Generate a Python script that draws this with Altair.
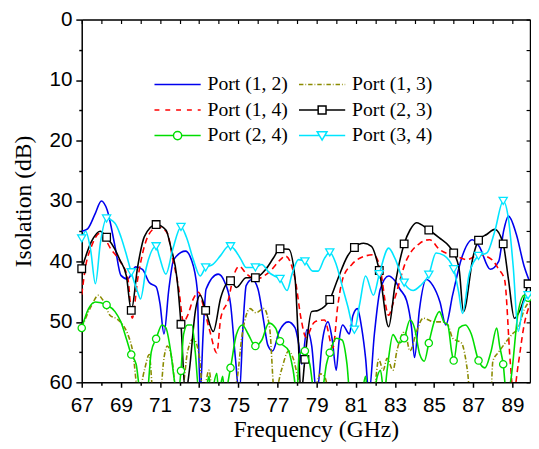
import altair as alt
import pandas as pd

# ---------------- data ----------------
names = ["Port (1, 2)", "Port (1, 3)", "Port (1, 4)", "Port (2, 3)", "Port (2, 4)", "Port (3, 4)"]
colors = ["#0000EE", "#8B8B00", "#FF0000", "#000000", "#00DD00", "#00E5FF"]

blue_f = [67.0, 67.3, 67.7, 68.0, 68.3, 68.7, 69.0, 69.35, 69.75, 70.1, 70.45, 70.8, 71.0, 71.2, 71.45,
          71.7, 72.3, 72.6, 72.9, 73.05, 73.2, 73.35, 73.97, 74.3, 74.6, 74.85, 75.05, 75.25, 75.4,
          75.7, 76.0, 76.3, 76.5, 76.75, 77.1, 77.55, 77.9, 78.1, 78.24, 78.5, 78.75, 79.0, 79.3,
          79.58, 79.8, 80.0, 80.15, 80.33, 80.67, 80.85, 81.08, 81.3, 81.5, 81.67, 81.95, 82.25,
          82.68, 83.0, 83.26, 83.6, 83.85, 84.0, 84.25, 84.6, 84.94, 85.3, 85.6, 85.95, 86.4, 86.95,
          87.3, 87.87, 88.3, 88.55, 88.8, 89.2, 89.6, 89.9]
blue_db = [35.0, 34.6, 32.0, 30.0, 31.5, 37.5, 42.3, 42.9, 40.9, 41.3, 43.5, 44.2, 47.0, 52.0, 44.6,
           39.7, 38.3, 39.7, 44.6, 62.0, 52.0, 44.6, 42.1, 43.4, 47.0, 56.0, 62.0, 50.0, 44.0,
           43.0, 44.5, 50.0, 53.8, 54.8, 51.5, 50.0, 51.0, 54.0, 57.0, 51.3, 54.0, 62.0, 53.0,
           50.0, 53.0, 58.0, 53.0, 50.5, 52.0, 49.0, 47.8, 51.0, 56.0, 62.0, 52.0, 44.6,
           42.4, 43.2, 44.6, 46.5, 51.0, 55.9, 48.0, 43.0, 44.0, 46.7, 50.5, 45.5, 39.5, 36.4,
           37.5, 41.3, 40.0, 35.0, 32.5, 35.5, 40.8, 43.5]

olive_f = [67.0, 67.5, 67.85, 68.1, 68.44, 68.8, 69.1, 69.36, 69.6, 69.9, 70.2, 70.45, 70.65, 71.0,
           71.2, 71.37, 71.6, 71.85, 72.2, 72.4, 72.7, 73.0, 73.2, 73.5, 73.7, 74.5, 74.9, 75.2,
           75.6, 75.9, 76.3, 76.6, 76.85, 77.2, 77.57, 77.8, 78.1, 78.3, 78.8, 79.2, 79.4, 79.7,
           81.9, 82.17, 82.4, 82.6, 82.9, 83.1, 83.5, 83.77, 84.1, 84.44, 85.0, 85.4, 85.7, 85.95,
           86.4, 86.7, 86.85, 87.9, 88.0, 88.3, 88.7, 89.0, 89.3, 89.6, 89.9]
olive_db = [51.0, 47.3, 45.6, 46.5, 48.9, 49.5, 50.5, 52.1, 54.8, 62.0, 58.0, 55.4, 62.0, 62.0,
            56.0, 54.0, 56.0, 62.0, 60.0, 55.0, 52.8, 55.5, 62.0, 58.0, 62.0, 62.0, 60.0, 52.0,
            47.8, 48.5, 47.8, 51.0, 62.0, 58.0, 54.8, 56.0, 60.0, 62.0, 62.0, 58.6, 59.0, 62.0,
            62.0, 56.2, 58.0, 56.0, 58.0, 54.8, 51.6, 54.8, 51.6, 49.4, 50.0, 50.0, 50.5, 52.7,
            53.5, 58.0, 62.0, 62.0, 56.5, 55.0, 53.2, 52.0, 51.0, 48.0, 46.5]

red_f = [67.0, 67.2, 67.5, 67.94, 68.5, 69.0, 69.36, 69.58, 69.86, 70.2, 70.6, 70.95, 71.37, 71.62,
         71.96, 72.2, 72.4, 72.7, 72.96, 73.3, 73.55, 73.9, 74.1, 74.5, 74.75, 75.05, 75.4, 75.9,
         76.56, 77.15, 77.4, 77.9, 78.2, 78.45, 78.9, 79.4, 79.83, 80.08, 80.33, 80.8, 81.25, 81.9,
         82.2, 82.68, 82.9, 83.6, 84.27, 84.77, 85.27, 86.1, 86.7, 87.28, 87.95, 88.3, 88.6, 88.9,
         89.05, 89.3, 89.6, 89.9]
red_db = [45.5, 40.8, 37.5, 35.3, 38.0, 40.2, 42.9, 49.4, 42.9, 37.5, 34.8, 34.3, 35.3, 39.1,
          44.6, 50.0, 49.0, 46.2, 45.1, 48.5, 51.6, 55.1, 49.4, 46.2, 42.5, 40.8, 42.0, 42.9,
          41.8, 39.7, 39.1, 42.9, 49.4, 52.5, 50.0, 49.7, 54.3, 47.3, 42.9, 40.5, 39.4, 38.9,
          40.5, 48.9, 47.0, 39.7, 37.0, 36.4, 38.0, 39.1, 39.7, 38.9, 39.7, 41.3, 43.0, 57.0,
          62.0, 57.0, 50.5, 47.0]

black_f = [67.0, 67.5, 67.94, 68.3, 68.7, 68.94, 69.28, 69.58, 69.86, 70.2, 70.82, 71.3, 71.54,
           71.87, 72.1, 72.3, 72.5, 72.8, 73.05, 73.33, 73.72, 74.1, 74.6, 74.9, 75.4, 75.9, 76.4,
           76.8, 77.15, 77.57, 77.9, 78.05, 78.2, 78.4, 78.74, 79.07, 79.66, 80.08, 80.58, 80.9,
           81.4, 81.8, 82.25, 82.68, 83.0, 83.43, 83.77, 84.1, 84.74, 85.27, 85.77, 86.03, 86.28,
           86.5, 87.0, 87.28, 87.7, 88.1, 88.5, 88.8, 89.1, 89.4, 89.8]
black_db = [41.2, 36.7, 35.0, 36.0, 38.0, 39.7, 42.4, 48.1, 40.8, 35.9, 33.9, 34.8, 37.5,
            42.9, 50.4, 62.0, 58.0, 48.3, 45.6, 48.1, 51.6, 46.0, 43.2, 44.3, 42.7, 42.7, 41.3,
            39.4, 37.9, 38.0, 42.9, 52.0, 62.0, 56.2, 48.3, 48.1, 46.3, 42.9, 39.1, 37.7,
            37.0, 37.5, 41.3, 50.8, 44.0, 37.1, 34.8, 33.6, 34.8, 36.1, 37.5, 38.6, 41.3,
            48.3, 39.1, 36.5, 35.5, 34.7, 37.1, 43.0, 49.4, 48.0, 43.7]

green_f = [67.0, 67.35, 67.7, 68.3, 68.7, 69.0, 69.3, 69.53, 69.78, 70.0, 70.3, 70.55, 70.8, 71.1,
           71.3, 71.54, 71.75, 71.9, 72.1, 72.2, 72.4, 72.63, 72.8, 73.0, 73.3, 73.5, 73.6, 73.9,
           74.0, 74.2, 74.3, 74.55, 74.9, 75.2, 75.5, 75.9, 76.2, 76.56, 76.9, 77.15, 77.57, 77.8,
           78.0, 78.1, 78.4, 78.65, 78.9, 79.3, 79.5, 79.66, 80.0, 80.3, 80.55, 80.7, 81.0, 81.3,
           81.5, 81.6, 81.9, 82.1, 82.26, 82.45, 82.6, 82.9, 83.2, 83.48, 83.77, 84.0, 84.27, 84.5,
           84.74, 85.0, 85.27, 85.5, 85.7, 85.9, 86.03, 86.28, 86.6, 86.9, 87.28, 87.6, 87.9, 88.2,
           88.35, 88.53, 88.7, 88.9, 89.3, 89.6, 89.9]
green_db = [51.0, 47.8, 46.7, 47.2, 48.3, 50.0, 53.0, 55.4, 57.0, 62.0, 63.0, 55.0, 52.8, 50.5,
            51.0, 54.8, 60.0, 62.0, 58.1, 52.1, 50.5, 50.5, 55.0, 62.0, 62.0, 59.0, 62.0, 58.5,
            62.0, 59.0, 62.0, 57.6, 52.1, 50.5, 52.0, 54.0, 53.0, 50.2, 51.0, 53.2, 54.8, 58.0,
            62.0, 55.4, 54.8, 57.0, 62.0, 61.0, 57.0, 55.1, 52.7, 53.0, 57.0, 62.0, 63.0, 62.0,
            59.0, 62.0, 62.0, 59.0, 58.0, 62.0, 58.0, 52.1, 53.5, 52.7, 49.7, 51.0, 55.4, 56.5,
            53.5, 50.0, 48.3, 50.0, 50.5, 55.0, 56.4, 51.0, 50.5, 52.0, 56.4, 57.6, 55.0, 51.0,
            54.0, 57.0, 62.0, 60.0, 48.3, 45.6, 45.0]

cyan_f = [67.0, 67.2, 67.45, 67.7, 67.95, 68.3, 68.7, 69.0, 69.3, 69.53, 69.86, 70.0, 70.3, 70.73,
          70.95, 71.3, 71.65, 72.04, 72.35, 72.7, 73.05, 73.3, 73.7, 74.1, 74.5, 74.8, 75.14, 75.4,
          75.8, 76.2, 76.56, 76.9, 77.15, 77.49, 77.75, 78.07, 78.4, 78.8, 79.07, 79.4, 79.66,
          80.0, 80.3, 80.58, 80.9, 81.2, 81.5, 81.9, 82.2, 82.68, 83.0, 83.48, 83.93, 84.3, 84.74,
          85.1, 85.5, 86.03, 86.25, 86.45, 86.8, 87.27, 87.7, 88.1, 88.57, 88.8, 89.04, 89.3,
          89.55, 89.8]
cyan_db = [36.2, 35.0, 38.0, 43.7, 37.0, 32.9, 33.7, 35.9, 39.1, 41.8, 45.1, 46.2, 41.0, 37.3,
           39.0, 42.1, 38.0, 34.3, 36.0, 39.7, 42.4, 41.0, 40.5, 39.0, 37.5, 38.0, 39.7, 41.0,
           41.0, 40.5, 41.8, 42.5, 42.9, 44.8, 42.0, 39.7, 40.0, 41.6, 41.6, 39.5, 38.5,
           40.5, 44.0, 47.3, 51.3, 47.0, 42.4, 45.6, 42.1, 37.8, 39.5, 43.5, 44.8, 44.0, 42.2,
           38.6, 39.0, 41.3, 45.0, 48.6, 42.0, 39.1, 38.6, 35.0, 30.0, 33.0, 40.8, 51.6,
           47.0, 45.6]

marker_f = [67.0, 68.27, 69.53, 70.8, 72.07, 73.33, 74.6, 75.87, 77.13, 78.4, 79.67, 80.93,
            82.2, 83.47, 84.73, 86.0, 87.27, 88.53, 89.8]
black_marker_db = [41.2, 36.0, 48.1, 33.9, 50.4, 48.1, 43.2, 42.7, 37.9, 56.2, 46.3, 37.7,
                   41.5, 37.1, 34.8, 38.6, 36.5, 37.1, 43.7]
green_marker_db = [51.0, 47.2, 55.4, 52.8, 58.1, None, 57.6, 54.0, 53.2, 54.8, 55.1, None,
                   None, 52.7, 53.5, 56.4, 56.4, 57.0, 46.0]
cyan_marker_db = [36.2, 32.9, 41.8, 37.5, 34.3, 41.0, 37.5, 41.0, 42.9, 40.0, 38.5, 51.3,
                  42.1, 43.5, 42.2, 41.3, 39.1, 30.0, 45.6]

x_major = list(range(67, 90, 2))
x_minor = list(range(68, 90, 2))
x_all = list(range(67, 90))
y_major = list(range(0, 61, 10))
y_minor = list(range(5, 60, 10))
y_all = list(range(0, 61, 5))

# ---------------- helpers ----------------
def line_df(fs, vs, mf=None, mv=None):
    pts = list(zip(fs, vs))
    if mf is not None:
        keep = [(m, w) for m, w in zip(mf, mv) if w is not None]
        pts = [(f, v) for f, v in pts if all(abs(f - m) > 0.08 for m, _ in keep)]
        pts += keep
    pts.sort()
    return pd.DataFrame({"f": [p[0] for p in pts], "db": [p[1] for p in pts]})

def marker_df(mf, mv):
    pts = [(m, w) for m, w in zip(mf, mv) if w is not None]
    return pd.DataFrame({"f": [p[0] for p in pts], "db": [p[1] for p in pts]})

xscale = alt.Scale(domain=[67, 89.9], nice=False, zero=False)
yscale = alt.Scale(domain=[0, 60], reverse=True, nice=False, zero=False)

SANS = "Liberation Sans"
SERIF = "Liberation Serif"

main_x_axis = alt.Axis(values=x_major, title="Frequency (GHz)", orient="bottom", tickSize=5,
                       labelFont=SANS, labelFontSize=21, labelColor="black", labelPadding=8,
                       titleFont=SERIF, titleFontSize=24, titleFontWeight="normal", titleColor="black",
                       titlePadding=2, titleX=238, grid=False, domainColor="black", domainWidth=1.5,
                       tickColor="black", tickWidth=1.5, labelFlush=False, labelOverlap=False)
main_y_axis = alt.Axis(values=y_major, title="Isolation (dB)", orient="left", tickSize=6,
                       labelFont=SANS, labelFontSize=21, labelColor="black", labelPadding=4,
                       titleFont=SERIF, titleFontSize=24, titleFontWeight="normal", titleColor="black",
                       titlePadding=14, grid=False, domainColor="black", domainWidth=1.5,
                       tickColor="black", tickWidth=1.5, labelFlush=False, labelOverlap=False)
minor_x_axis = alt.Axis(values=x_minor, title=None, orient="bottom", labels=False, domain=False,
                        tickSize=3, grid=False, tickColor="black", tickWidth=1.5)
minor_y_axis = alt.Axis(values=y_minor, title=None, orient="left", labels=False, domain=False,
                        tickSize=3, grid=False, tickColor="black", tickWidth=1.5)
top_axis = alt.Axis(values=x_all, title=None, orient="bottom", offset=-369, labels=False,
                    tickSize=4, grid=False, domainColor="black", domainWidth=1.5,
                    tickColor="black", tickWidth=1.2)
right_axis = alt.Axis(values=y_all, title=None, orient="left", offset=-456, labels=False,
                      tickSize=4, grid=False, domainColor="black", domainWidth=1.5,
                      tickColor="black", tickWidth=1.2)

def line_layer(df, color, dash=None, xaxis=None, yaxis=None):
    kw = dict(color=color, strokeWidth=1.6, clip=True, interpolate="monotone")
    if dash:
        kw["strokeDash"] = dash
    return alt.Chart(df).mark_line(**kw).encode(
        x=alt.X("f:Q", scale=xscale, axis=xaxis),
        y=alt.Y("db:Q", scale=yscale, axis=yaxis),
    )

def marker_layer(df, color, shape, size):
    return alt.Chart(df).mark_point(shape=shape, size=size, filled=True, fill="white",
                                    stroke=color, strokeWidth=1.3, opacity=1).encode(
        x=alt.X("f:Q", scale=xscale, axis=None),
        y=alt.Y("db:Q", scale=yscale, axis=None),
    )

# legend symbols: line + marker, as custom paths (unit = 10 px)
def dashed(dash, gap, dot=None):
    parts, x = [], -1.0
    while x < 3.7:
        e = min(x + dash, 3.7)
        parts.append(f"M{x:.3f},0L{e:.3f},0")
        x = e + gap
        if dot is not None and x < 3.7:
            e = min(x + dot, 3.7)
            parts.append(f"M{x:.3f},0L{e:.3f},0")
            x = e + gap
    return "".join(parts)

p_blue = "M-1,0L3.7,0"
p_olive = dashed(0.45, 0.2, 0.08)
p_red = dashed(0.5, 0.6)
p_black = "M-1,0L0.95,0M0.95,-0.4L1.75,-0.4L1.75,0.4L0.95,0.4ZM1.75,0L3.7,0"
p_green = "M-1,0L0.93,0M0.93,0A0.42,0.42 0 1,0 1.77,0A0.42,0.42 0 1,0 0.93,0ZM1.77,0L3.7,0"
p_cyan = "M-1,0L1.1,0M0.85,-0.4L1.85,-0.4L1.35,0.45ZM1.6,0L3.7,0"
paths = [p_blue, p_olive, p_red, p_black, p_green, p_cyan]

leg = alt.Legend(title=None, orient="none", legendX=73, legendY=55, columns=2, direction="horizontal",
                 symbolSize=400, symbolStrokeWidth=1.5, labelOffset=33, columnPadding=8,
                 rowPadding=5, labelFont=SERIF, labelFontSize=20, labelColor="black",
                 labelLimit=200, symbolOpacity=1)
legend_df = pd.DataFrame({"series": names})
legend_layer = alt.Chart(legend_df).mark_point(opacity=0, filled=False, size=400).encode(
    color=alt.Color("series:N", scale=alt.Scale(domain=names, range=colors), legend=leg),
    shape=alt.Shape("series:N", scale=alt.Scale(domain=names, range=paths), legend=leg),
)

layers = [
    line_layer(line_df(blue_f, blue_db), colors[0], xaxis=main_x_axis, yaxis=main_y_axis),
    line_layer(line_df(olive_f, olive_db), colors[1], dash=[5, 2, 1, 2], xaxis=top_axis, yaxis=right_axis),
    line_layer(line_df(red_f, red_db), colors[2], dash=[6, 4], xaxis=minor_x_axis, yaxis=minor_y_axis),
    line_layer(line_df(black_f, black_db, marker_f, black_marker_db), colors[3]),
    marker_layer(marker_df(marker_f, black_marker_db), colors[3], "square", 60),
    line_layer(line_df(green_f, green_db, marker_f, green_marker_db), colors[4]),
    marker_layer(marker_df(marker_f, green_marker_db), colors[4], "circle", 55),
    line_layer(line_df(cyan_f, cyan_db, marker_f, cyan_marker_db), colors[5]),
    marker_layer(marker_df(marker_f, cyan_marker_db), colors[5], "triangle-down", 70),
    legend_layer,
]

chart = alt.layer(*layers).resolve_axis(x="independent", y="independent").properties(
    width=456, height=369,
    autosize=alt.AutoSizeParams(type="none"),
    padding={"left": 75, "top": 8, "right": 1, "bottom": 64},
).configure_view(stroke=None).configure(background="white")

chart.save("out.html", embed_options={"renderer": "svg", "actions": False})
